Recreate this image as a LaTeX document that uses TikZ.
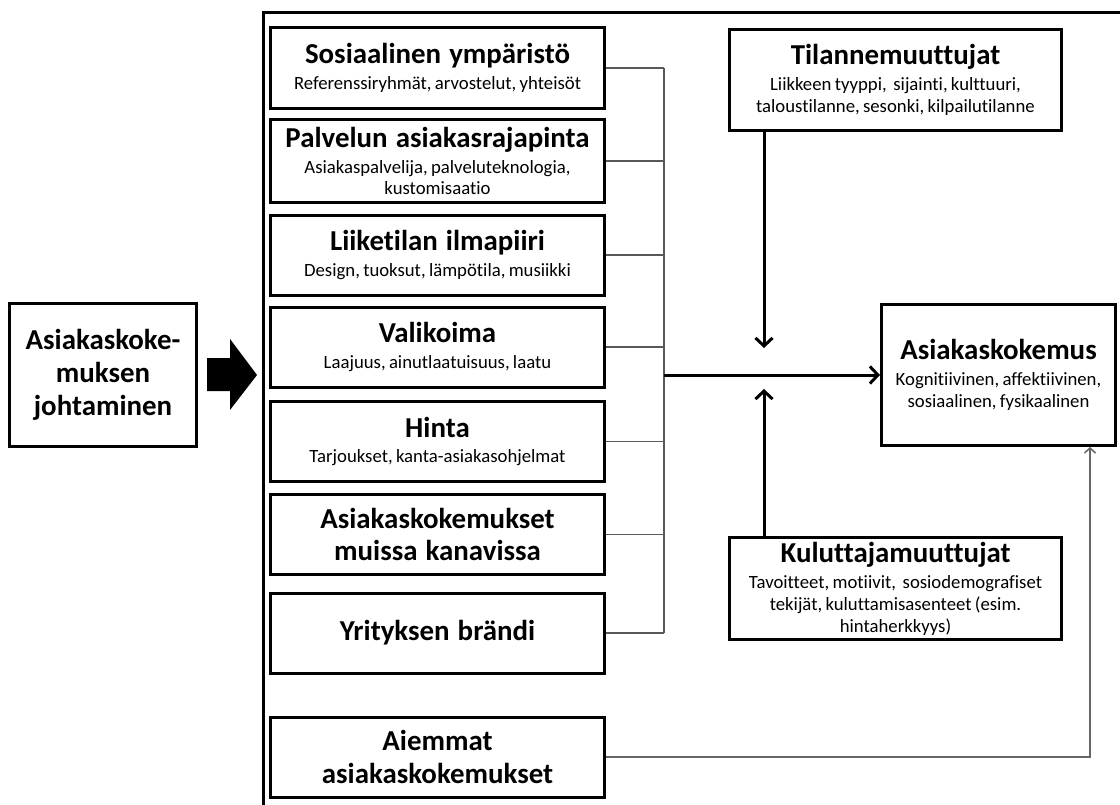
\documentclass[tikz,border=0pt]{standalone}
\usepackage{fontspec}
\setmainfont[Ligatures=NoCommon]{Carlito}
\usetikzlibrary{arrows.meta}

% heading and body sizes used inside the boxes
\newcommand{\dghead}{\fontsize{29}{33}\selectfont\bfseries\spaceskip=0.28em\relax}
\newcommand{\dgbody}{\fontsize{18.8}{22}\selectfont}
\newcommand{\dgtwo}[2]{{\dghead #1\par}\vspace{4bp}{\dgbody #2\par}}

\begin{document}
\begin{tikzpicture}[x=1bp,y=-1bp,
  box/.style={draw, line width=3bp, inner sep=0pt, align=center, fill=white},
  factor/.style={box, minimum width=334bp, minimum height=80bp, text width=326bp},
  conn/.style={draw=black!65, line width=1.3bp},
  bigarrow/.style={line width=3bp, -{Straight Barb[length=8bp,width=17bp]}},
  thinarrow/.style={draw=black!60, line width=1.5bp, -{Straight Barb[length=5bp,width=11bp]}}
]
\useasboundingbox (0,0) rectangle (1120,805);

% outer frame around the factors
\draw[line width=3bp] (263,805) -- (263,13) -- (1120,13);

% management box and block arrow
\node[box, minimum width=186bp, minimum height=143bp, text width=180bp] (mgmt) at (103,374.5)
  {\dghead Asiakaskoke-\\muksen\\johtaminen\par};
\fill (207,358) -- (230,358) -- (230,339) -- (257,375) -- (230,410) -- (230,391) -- (207,391) -- cycle;

% factor boxes
\node[factor] (b1) at (437.5,68)
  {\dgtwo{Sosiaalinen ympäristö}{Referenssiryhmät, arvostelut, yhteisöt}};
\node[factor, minimum height=82bp] (b2) at (437.5,161)
  {\dgtwo{Palvelun asiakasrajapinta}{Asiakaspalvelija, palveluteknologia,\\kustomisaatio}};
\node[factor] (b3) at (437.5,255)
  {\dgtwo{Liiketilan ilmapiiri}{Design, tuoksut, lämpötila, musiikki}};
\node[factor] (b4) at (437.5,347)
  {\dgtwo{Valikoima}{Laajuus, ainutlaatuisuus, laatu}};
\node[factor] (b5) at (437.5,441.5)
  {\dgtwo{Hinta}{Tarjoukset, kanta-asiakasohjelmat}};
\node[factor] (b6) at (437.5,534.5)
  {\dghead Asiakaskokemukset\\muissa kanavissa\par};
\node[factor] (b7) at (437.5,633)
  {\dghead Yrityksen brändi\par};
\node[factor] (b8) at (437.5,757)
  {\dghead Aiemmat\\asiakaskokemukset\par};

% situational and consumer variables, outcome
\node[box, minimum width=332bp, minimum height=101bp, text width=326bp] (sit) at (895.5,80)
  {\dgtwo{Tilannemuuttujat}{Liikkeen tyyppi,\ \ sijainti, kulttuuri,\\taloustilanne, sesonki, kilpailutilanne}};
\node[box, minimum width=332bp, minimum height=102bp, text width=326bp] (cons) at (895.5,588.5)
  {\dgtwo{Kuluttajamuuttujat}{Tavoitteet, motiivit,\ \ sosiodemografiset\\tekijät, kuluttamisasenteet (esim.\\hintaherkkyys)}};
\node[box, minimum width=234bp, minimum height=141bp, text width=230bp] (exp) at (998.5,375)
  {\dgtwo{Asiakaskokemus}{Kognitiivinen, affektiivinen,\\sosiaalinen, fysikaalinen}};

% collector line
\coordinate (trunk) at (664,0);
\coordinate (hub) at (664,375);
\foreach \b in {b1,b2,b3,b4,b5,b6,b7}
  \draw[conn] (\b.east) -- (\b.east -| trunk);
\draw[conn] (b1.east -| trunk) -- (b7.east -| trunk);

% main flow arrows
\draw[bigarrow] (hub) -- (exp.west);
\coordinate (dn) at (764,348);
\coordinate (up) at (764,389);
\draw[bigarrow] (sit.south -| dn) -- (dn);
\draw[bigarrow] (cons.north -| up) -- (up);

% feedback from earlier experiences
\coordinate (ret) at (1090,0);
\draw[thinarrow] (b8.east) -| (exp.south -| ret);
\end{tikzpicture}
\end{document}
